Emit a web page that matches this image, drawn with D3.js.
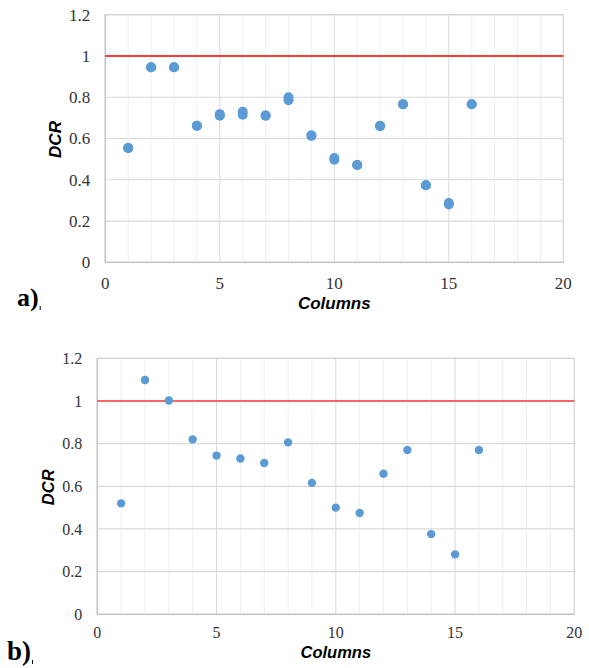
<!DOCTYPE html>
<html>
<head>
<meta charset="utf-8">
<script src="https://cdn.jsdelivr.net/npm/d3@7"></script>
<style>
  body { margin: 0; background: #fff; }
</style>
</head>
<body>
<div id="chart"></div>
<script>
// Data
const columns = [1, 2, 3, 4, 5, 6, 7, 8, 9, 10, 11, 12, 13, 14, 15, 16];
const dcrA = [0.554, 0.945, 0.945, 0.662, 0.71, 0.715, 0.711, 0.785, 0.614, 0.497, 0.472, 0.659, 0.766, 0.373, 0.28, 0.766];
// second, almost hidden markers in panel a)
const dcrA2 = [0.554, 0.945, 0.945, 0.662, 0.718, 0.73, 0.711, 0.80, 0.614, 0.505, 0.472, 0.662, 0.766, 0.373, 0.287, 0.766];
const dcrB = [0.52, 1.098, 1.002, 0.82, 0.744, 0.73, 0.709, 0.806, 0.616, 0.50, 0.475, 0.659, 0.77, 0.376, 0.281, 0.77];
const xTicks = [0, 5, 10, 15, 20];
const yTicks = [0, 0.2, 0.4, 0.6, 0.8, 1, 1.2];
const limit = 1;

const serif = "'Liberation Serif', 'Times New Roman', 'DejaVu Serif', serif";
const sans = "'Liberation Sans', Arial, sans-serif";

const svg = d3.select("#chart")
    .append("svg")
    .attr("width", 589)
    .attr("height", 668);

// Panel a)
drawPanel({
    series: [dcrA, dcrA2],
    left: 105.3, right: 563.3, top: 14.7, bottom: 262.3,
    r: 5, tickSize: 17, titleSize: 17,
    yLabelGap: 15, xLabelDy: 26.5,
    dcrX: 61, colY: 308.5,
    label: "a)", labelX: 17, labelY: 306, labelSize: 26,
    limitColor: "#ff0000"
});

// Panel b)
drawPanel({
    series: [dcrB],
    left: 97.3, right: 574.3, top: 358.3, bottom: 614.3,
    r: 4.2, tickSize: 16, titleSize: 16.5,
    yLabelGap: 15, xLabelDy: 24,
    dcrX: 54, colY: 658,
    label: "b)", labelX: 7, labelY: 660, labelSize: 27,
    limitColor: "#ff3b3b"
});

function drawPanel(p) {
    const x = d3.scaleLinear().domain([0, 20]).range([p.left, p.right]);
    const y = d3.scaleLinear().domain([0, 1.2]).range([p.bottom, p.top]);
    const g = svg.append("g");

    // Minor vertical grid (every column)
    g.selectAll(".minor")
        .data(d3.range(1, 20).filter(d => d % 5 !== 0))
        .enter().append("line")
        .attr("x1", d => x(d)).attr("x2", d => x(d))
        .attr("y1", p.top).attr("y2", p.bottom)
        .attr("stroke", "#efefef").attr("stroke-width", 1);

    // Major grid
    g.selectAll(".vmajor")
        .data(xTicks.slice(1, -1))
        .enter().append("line")
        .attr("x1", d => x(d)).attr("x2", d => x(d))
        .attr("y1", p.top).attr("y2", p.bottom)
        .attr("stroke", "#d9d9d9").attr("stroke-width", 1);

    g.selectAll(".hmajor")
        .data(yTicks.slice(1))
        .enter().append("line")
        .attr("x1", p.left).attr("x2", p.right)
        .attr("y1", d => y(d)).attr("y2", d => y(d))
        .attr("stroke", "#d9d9d9").attr("stroke-width", 1.2);

    // Plot frame
    g.append("rect")
        .attr("x", p.left).attr("y", p.top)
        .attr("width", p.right - p.left).attr("height", p.bottom - p.top)
        .attr("fill", "none").attr("stroke", "#d4d4d4").attr("stroke-width", 1.2);
    g.append("line")
        .attr("x1", p.left).attr("x2", p.right)
        .attr("y1", p.bottom).attr("y2", p.bottom)
        .attr("stroke", "#bfbfbf").attr("stroke-width", 1.2);
    g.append("line")
        .attr("x1", p.left).attr("x2", p.left)
        .attr("y1", p.top).attr("y2", p.bottom)
        .attr("stroke", "#bfbfbf").attr("stroke-width", 1.2);

    // Limit line DCR = 1
    g.append("line")
        .attr("x1", x(0)).attr("x2", x(20))
        .attr("y1", y(limit)).attr("y2", y(limit))
        .attr("stroke", p.limitColor).attr("stroke-width", 1.4);

    // Points
    p.series.forEach(vals => {
        g.selectAll(null)
            .data(columns.map((c, i) => [c, vals[i]]))
            .enter().append("circle")
            .attr("cx", d => x(d[0]))
            .attr("cy", d => y(d[1]))
            .attr("r", p.r)
            .attr("fill", "#5b9bd5");
    });

    // Tick labels
    g.selectAll(".ylab")
        .data(yTicks)
        .enter().append("text")
        .attr("x", p.left - p.yLabelGap)
        .attr("y", d => y(d))
        .attr("dy", "0.35em")
        .attr("text-anchor", "end")
        .attr("font-family", serif)
        .attr("font-size", p.tickSize)
        .attr("fill", "#333")
        .text(d => d);

    g.selectAll(".xlab")
        .data(xTicks)
        .enter().append("text")
        .attr("x", d => x(d))
        .attr("y", p.bottom + p.xLabelDy)
        .attr("text-anchor", "middle")
        .attr("font-family", serif)
        .attr("font-size", p.tickSize)
        .attr("fill", "#333")
        .text(d => d);

    // Axis titles
    g.append("text")
        .attr("transform", "translate(" + p.dcrX + "," + ((p.top + p.bottom) / 2 + 1) + ") rotate(-90)")
        .attr("text-anchor", "middle")
        .attr("font-family", sans)
        .attr("font-weight", "bold")
        .attr("font-style", "italic")
        .attr("font-size", p.titleSize)
        .text("DCR");

    g.append("text")
        .attr("x", x(10))
        .attr("y", p.colY)
        .attr("text-anchor", "middle")
        .attr("font-family", sans)
        .attr("font-weight", "bold")
        .attr("font-style", "italic")
        .attr("font-size", p.titleSize)
        .text("Columns");

    // Panel label
    const lab = g.append("text")
        .attr("x", p.labelX)
        .attr("y", p.labelY)
        .attr("font-family", serif)
        .attr("font-weight", "bold")
        .attr("font-size", p.labelSize)
        .text(p.label);
    const bb = lab.node().getBBox();
    g.append("line")
        .attr("x1", bb.x + bb.width + 1.5).attr("x2", bb.x + bb.width + 1.5)
        .attr("y1", p.labelY).attr("y2", p.labelY + 4)
        .attr("stroke", "#000").attr("stroke-width", 1);
}
</script>
</body>
</html>
